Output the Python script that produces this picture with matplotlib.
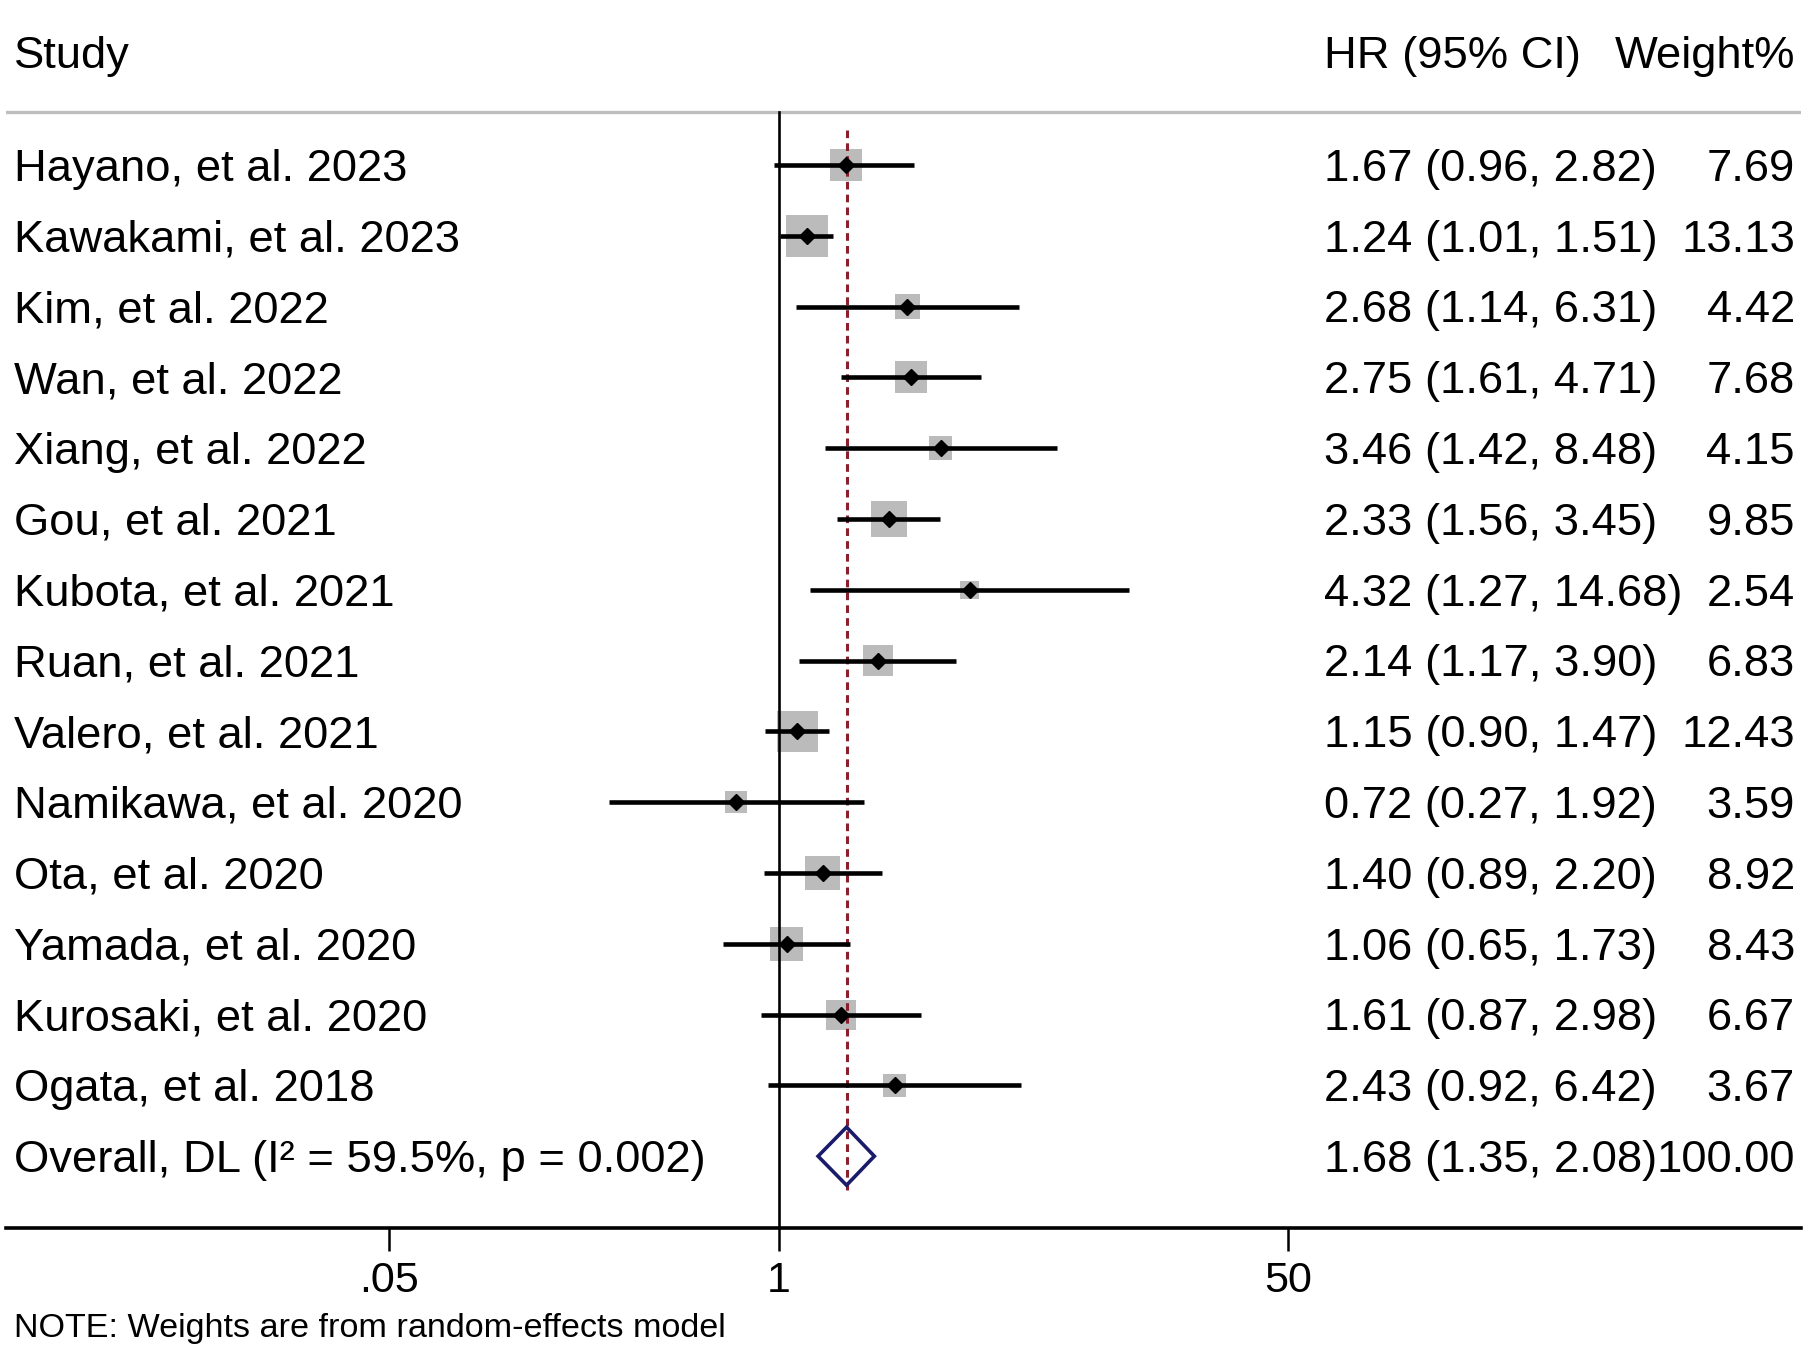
import numpy as np
import matplotlib
matplotlib.use("Agg")
import matplotlib.pyplot as plt
from matplotlib.ticker import NullLocator
from typing import List

# =============================================================================
# Study data
# =============================================================================

studies: List[str] = [
    "Hayano, et al. 2023", "Kawakami, et al. 2023", "Kim, et al. 2022",
    "Wan, et al. 2022", "Xiang, et al. 2022", "Gou, et al. 2021",
    "Kubota, et al. 2021", "Ruan, et al. 2021", "Valero, et al. 2021",
    "Namikawa, et al. 2020", "Ota, et al. 2020", "Yamada, et al. 2020",
    "Kurosaki, et al. 2020", "Ogata, et al. 2018",
]
hr = [1.67, 1.24, 2.68, 2.75, 3.46, 2.33, 4.32, 2.14, 1.15, 0.72, 1.40, 1.06, 1.61, 2.43]
ci_low = [0.96, 1.01, 1.14, 1.61, 1.42, 1.56, 1.27, 1.17, 0.90, 0.27, 0.89, 0.65, 0.87, 0.92]
ci_high = [2.82, 1.51, 6.31, 4.71, 8.48, 3.45, 14.68, 3.90, 1.47, 1.92, 2.20, 1.73, 2.98, 6.42]
weights = [7.69, 13.13, 4.42, 7.68, 4.15, 9.85, 2.54, 6.83, 12.43, 3.59, 8.92, 8.43, 6.67, 3.67]

overall_label = "Overall, DL (I\u00b2 = 59.5%, p = 0.002)"
overall_hr = 1.68
overall_low = 1.35
overall_high = 2.08
overall_weight = 100.00

x_ticks = [0.05, 1, 50]
x_tick_labels = [".05", "1", "50"]

header_study = "Study"
header_hr = "HR (95% CI)"
header_weight = "Weight%"
note_text = "NOTE: Weights are from random-effects model"

# =============================================================================
# Layout (pixel geometry of the original Stata output)
# =============================================================================

W, H, DPI = 1808, 1351, 100
ROW0_PX, ROW_STEP = 165.0, 70.8      # first study row, row spacing
NULL_PX, PX_PER_LN = 779.0, 130.2    # x pixel of HR=1, pixels per ln unit
AX_LEFT_PX, AX_RIGHT_PX, AX_BOTTOM_PX = 6, 1801, 1228
HEADER_LINE_PX = 112

ROW_FONT = 32.7
TEXT_DY = 0.06   # small nudge so cap height sits on the row line


def px_to_row(py: float) -> float:
    return (py - ROW0_PX) / ROW_STEP


def px_to_x(px: float) -> float:
    return float(np.exp((px - NULL_PX) / PX_PER_LN))


def fmt_ci(est: float, lo: float, hi: float) -> str:
    return f"{est:.2f} ({lo:.2f}, {hi:.2f})"


def main() -> None:
    plt.rcParams['font.family'] = ['Liberation Sans', 'DejaVu Sans']

    fig = plt.figure(figsize=(W / DPI, H / DPI), dpi=DPI)
    ax = fig.add_axes([AX_LEFT_PX / W, 1 - AX_BOTTOM_PX / H,
                       (AX_RIGHT_PX - AX_LEFT_PX) / W, AX_BOTTOM_PX / H])
    ax.set_xscale('log')
    ax.set_xlim(px_to_x(AX_LEFT_PX), px_to_x(AX_RIGHT_PX))
    ax.set_ylim(px_to_row(AX_BOTTOM_PX), px_to_row(0))

    n = len(studies)
    rows = np.arange(n)
    y_overall = n

    # weight boxes
    side_pt = 11.6 * np.sqrt(np.array(weights)) * 72 / DPI
    ax.scatter(hr, rows, s=side_pt ** 2, marker='s', color='#BBBBBB',
               linewidths=0, zorder=2)

    # null line and overall dashed line
    ax.plot([1, 1], [px_to_row(HEADER_LINE_PX), px_to_row(AX_BOTTOM_PX)],
            color='black', lw=1.9, zorder=3, clip_on=False)
    ax.plot([overall_hr, overall_hr], [-0.5, y_overall + 0.5], color='#8B1F2E',
            lw=2.2, dashes=(2.5, 1.7), zorder=3)

    # CIs and point estimates
    for i in range(n):
        ax.plot([ci_low[i], ci_high[i]], [i, i], color='black', lw=3.3,
                solid_capstyle='butt', zorder=4)
    ax.plot(hr, rows, 'D', color='black', ms=8.5, zorder=5)

    # overall diamond
    half_h = 0.41
    ax.fill([overall_low, overall_hr, overall_high, overall_hr],
            [y_overall, y_overall - half_h, y_overall, y_overall + half_h],
            fill=False, edgecolor='#1B1B6B', lw=2.6, zorder=6)

    # header and separator line
    y_head = px_to_row(52) + TEXT_DY
    ax.text(px_to_x(14), y_head, header_study, fontsize=ROW_FONT, va='center')
    ax.text(px_to_x(1324), y_head, header_hr, fontsize=ROW_FONT, va='center')
    ax.text(px_to_x(1795), y_head, header_weight, fontsize=ROW_FONT,
            va='center', ha='right')
    ax.axhline(px_to_row(HEADER_LINE_PX), color='#BEBEBE', lw=2.4)

    # text columns
    labels = studies + [overall_label]
    est = hr + [overall_hr]
    lo = ci_low + [overall_low]
    hi = ci_high + [overall_high]
    wt = weights + [overall_weight]
    for i in range(n + 1):
        y = i + TEXT_DY
        ax.text(px_to_x(14), y, labels[i], fontsize=ROW_FONT, va='center')
        ax.text(px_to_x(1324), y, fmt_ci(est[i], lo[i], hi[i]),
                fontsize=ROW_FONT, va='center')
        ax.text(px_to_x(1795), y, f"{wt[i]:.2f}", fontsize=ROW_FONT,
                va='center', ha='right')

    # axis styling
    for side in ['top', 'left', 'right']:
        ax.spines[side].set_visible(False)
    ax.spines['bottom'].set_linewidth(2.6)
    ax.set_yticks([])
    ax.set_xticks(x_ticks)
    ax.set_xticklabels(x_tick_labels)
    ax.xaxis.set_minor_locator(NullLocator())
    ax.tick_params(axis='x', length=16.5, width=1.8, pad=7.5, labelsize=31)
    ax.patch.set_visible(False)

    fig.text(14 / W, 1 - 1329 / H, note_text, fontsize=24.6, va='center')

    fig.savefig("out.png", dpi=DPI)


if __name__ == '__main__':
    main()
